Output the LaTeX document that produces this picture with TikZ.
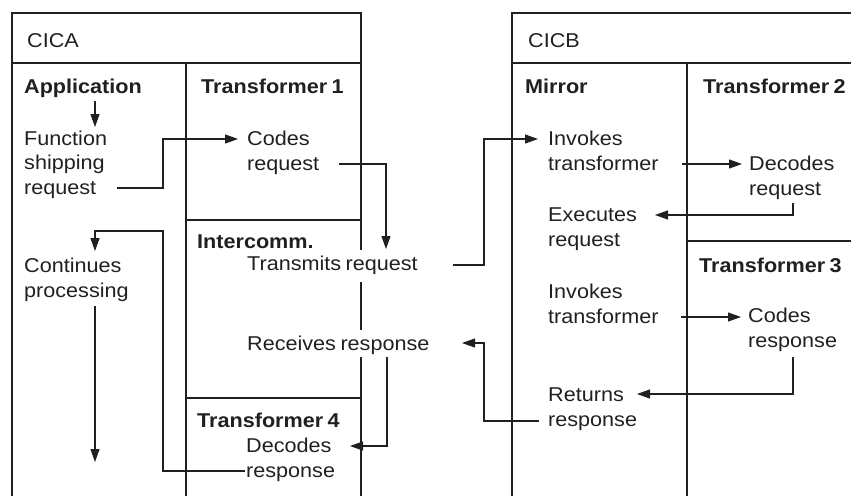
\documentclass[tikz,border=0pt]{standalone}
\usepackage{fontspec}
\setmainfont{Liberation Sans}[FakeStretch=1.08,WordSpace=0.75]
\usetikzlibrary{arrows.meta}
\definecolor{ink}{HTML}{231F20}
\tikzset{
  lbl/.style={anchor=base west, inner sep=0pt, align=left, text=ink,
    font=\fontsize{20}{24.5}\selectfont},
  hdr/.style={lbl, font=\fontsize{20}{24.5}\selectfont\bfseries},
  box/.style={draw=ink, line width=1.2pt},
  conn/.style={draw=ink, line width=1.1pt},
  arr/.style={conn, -{Triangle[length=13pt,width=9pt]}}
}
\begin{document}
\begin{tikzpicture}[x=1pt,y=-1pt]
\useasboundingbox (0,0) rectangle (851,496);
% CICA box
\draw[box] (12,496) -- (12,13) -- (361,13) -- (361,250);
\draw[box] (361,282) -- (361,330);
\draw[box] (361,357) -- (361,496);
\draw[box] (12,63) -- (361,63);
\draw[box] (186,63) -- (186,496);
\draw[box] (186,220) -- (361,220);
\draw[box] (186,398) -- (361,398);
% CICB box
\draw[box] (512,496) -- (512,13) -- (851,13);
\draw[box] (512,63) -- (851,63);
\draw[box] (687,63) -- (687,496);
\draw[box] (687,241) -- (851,241);
% texts (base west = baseline of the last line)
\node[lbl] (cica) at (27,47) {CICA};
\node[lbl] (cicb) at (528,47) {CICB};
\node[hdr] (app) at (24,93) {Application};
\node[hdr] (t1) at (201,93) {Transformer 1};
\node[lbl] (fs) at (24,194) {Function\\shipping\\request};
\node[lbl] (codes) at (247,170) {Codes\\request};
\node[hdr] (ic) at (197,248) {Intercomm.};
\node[lbl] (tr) at (247,270) {Transmits request};
\node[lbl] (cont) at (24,297) {Continues\\processing};
\node[lbl] (rr) at (247,350) {Receives response};
\node[hdr] (t4) at (197,427) {Transformer 4};
\node[lbl] (dr) at (246,477) {Decodes\\response};
\node[hdr] (mirror) at (525,93) {Mirror};
\node[hdr] (t2) at (703,93) {Transformer 2};
\node[lbl] (inv1) at (548,170) {Invokes\\transformer};
\node[lbl] (dreq) at (749,195) {Decodes\\request};
\node[lbl] (ex) at (548,246) {Executes\\request};
\node[hdr] (t3) at (699,272) {Transformer 3};
\node[lbl] (inv2) at (548,323) {Invokes\\transformer};
\node[lbl] (cresp) at (748,347) {Codes\\response};
\node[lbl] (ret) at (548,426) {Returns\\response};
% connector end points
\coordinate (appout) at (95,101);
\coordinate (fsin) at (95,127);
\coordinate (fsout) at (117,188);
\coordinate (codesin) at (238,139);
\coordinate (codesout) at (339,164);
\coordinate (trin) at (386,249);
\coordinate (trout) at (453,265);
\coordinate (inv1in) at (538,139);
\coordinate (inv1out) at (682,164);
\coordinate (dreqin) at (742,164);
\coordinate (dreqout) at (793,203);
\coordinate (exin) at (655,215);
\coordinate (inv2out) at (681,317);
\coordinate (crespin) at (741,317);
\coordinate (crespout) at (793,357);
\coordinate (retin) at (637,394);
\coordinate (retout) at (539,421);
\coordinate (rrin) at (462,343);
\coordinate (rrout) at (387,357);
\coordinate (drin) at (350,446);
\coordinate (drout) at (245,471);
\coordinate (contin) at (95,251);
\coordinate (contout) at (95,306);
\coordinate (contend) at (95,462);
% connectors
\draw[arr] (appout) -- (fsin);
\draw[arr] (fsout) -- (163,188) |- (codesin);
\draw[arr] (codesout) -| (trin);
\draw[arr] (trout) -- (484,265) |- (inv1in);
\draw[arr] (inv1out) -- (dreqin);
\draw[arr] (dreqout) |- (exin);
\draw[arr] (inv2out) -- (crespin);
\draw[arr] (crespout) |- (retin);
\draw[arr] (retout) -- (484,421) |- (rrin);
\draw[arr] (rrout) |- (drin);
\draw[arr] (drout) -- (163,471) -- (163,231) -| (contin);
\draw[arr] (contout) -- (contend);
\end{tikzpicture}
\end{document}
